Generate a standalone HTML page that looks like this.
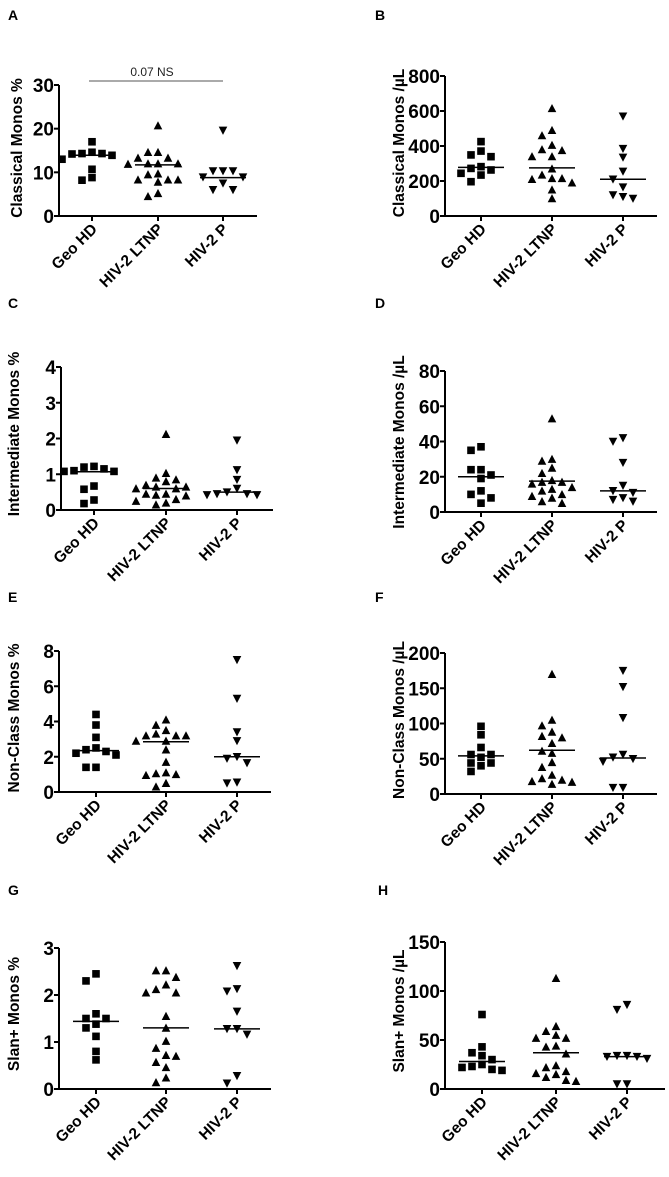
<!DOCTYPE html>
<html><head><meta charset="utf-8"><style>
html,body{margin:0;padding:0;background:#fff}
svg{display:block;font-family:"Liberation Sans",Arial,sans-serif}
</style></head><body>
<svg id="fig" width="669" height="1177" viewBox="0 0 669 1177" xmlns="http://www.w3.org/2000/svg"></svg>
<script>
const categories=["Geo HD","HIV-2 LTNP","HIV-2 P"];
// Panel A: Classical Monos %
const aTicks=[0,10,20,30];
const aGeo=[17.0,14.6,14.3,14.3,14.2,13.9,13.0,10.7,8.8,8.2];
const aLtnp=[20.7,14.6,14.6,13.3,13.3,12.0,12.0,12.0,11.9,9.7,9.5,8.3,8.3,8.3,7.8,5.2,4.5];
const aP=[19.6,10.3,10.3,10.3,8.9,8.9,7.5,6.0,6.0];
const aMed=[13.9,11.7,8.8];
// Panel B: Classical Monos /uL
const bTicks=[0,200,400,600,800];
const bGeo=[425,371,349,339,282,272,263,244,234,196];
const bLtnp=[615,490,460,405,380,375,340,340,270,235,215,215,210,190,150,100];
const bP=[570,385,335,255,210,165,120,110,100];
const bMed=[278,275,210];
// Panel C: Intermediate Monos %
const cTicks=[0,1,2,3,4];
const cGeo=[1.22,1.2,1.15,1.1,1.08,1.08,0.67,0.58,0.28,0.18];
const cLtnp=[2.12,1.03,0.9,0.85,0.8,0.7,0.65,0.65,0.6,0.6,0.45,0.45,0.42,0.4,0.3,0.25,0.2,0.15];
const cP=[1.95,1.12,0.85,0.6,0.5,0.45,0.42,0.42,0.45];
const cMed=[1.07,0.6,0.5];
// Panel D: Intermediate Monos /uL
const dTicks=[0,20,40,60,80];
const dGeo=[37,35,24,24,21,19,12,10,8,5];
const dLtnp=[53,30,29,25,22,18,17,17,16,14,13,12,10,9,8,6,5];
const dP=[42,40,28,15,12,11,8,7,6];
const dMed=[20,17.5,12];
// Panel E: Non-Class Monos %
const eTicks=[0,2,4,6,8];
const eGeo=[4.4,3.8,3.1,2.5,2.4,2.3,2.2,2.1,1.4,1.4];
const eLtnp=[4.1,3.8,3.5,3.3,3.2,3.2,3.2,2.9,2.9,2.4,1.7,1.1,1.05,1.0,0.95,0.5,0.3];
const eP=[7.5,5.3,3.4,2.9,2.0,1.9,1.65,0.55,0.5];
const eMed=[2.35,2.85,2.0];
// Panel F: Non-Class Monos /uL
const fTicks=[0,50,100,150,200];
const fGeo=[96,84,66,56,56,52,44,44,40,32];
const fLtnp=[170,105,97,88,82,80,72,61,58,45,38,27,22,20,18,17,14];
const fP=[175,152,108,56,52,50,46,9,9];
const fMed=[54,62,51];
// Panel G: Slan+ Monos %
const gTicks=[0,1,2,3];
const gGeo=[2.45,2.3,1.6,1.5,1.5,1.38,1.3,1.12,0.8,0.62];
const gLtnp=[2.52,2.52,2.38,2.22,2.12,2.05,2.05,1.55,1.3,1.02,0.87,0.72,0.7,0.57,0.46,0.24,0.14];
const gP=[2.62,2.13,2.08,1.65,1.28,1.28,1.16,0.28,0.12];
const gMed=[1.44,1.3,1.28];
// Panel H: Slan+ Monos /uL
const hTicks=[0,50,100,150];
const hGeo=[76,43,37,34,30,25,23,22,20,19];
const hLtnp=[113,64,59,55,52,52,44,43,36,24,22,18,16,15,12,9,8];
const hP=[86,81,34,34,33,33,31,5,5];
const hMed=[28,37,33];

const NS="http://www.w3.org/2000/svg";
const svg=document.getElementById('fig');
function mk(tag,attrs,parent){const e=document.createElementNS(NS,tag);for(const k in attrs)e.setAttribute(k,attrs[k]);(parent||svg).appendChild(e);return e;}

const panels=[
 {id:'a',letter:'A',lx:8,ly:20,title:'Classical Monos %',tx:18,ty:148,x0:59,x1:257,yt:85,yb:216,cx:[92,158,223],ticks:aTicks,data:[aGeo,aLtnp,aP],med:aMed},
 {id:'b',letter:'B',lx:375,ly:20,title:'Classical Monos /µL',tx:400,ty:143,x0:445,x1:657,yt:76,yb:216,cx:[481,552,623],ticks:bTicks,data:[bGeo,bLtnp,bP],med:bMed},
 {id:'c',letter:'C',lx:8,ly:308,title:'Intermediate Monos %',tx:15,ty:434,x0:61,x1:273,yt:367,yb:510,cx:[94,166,237],ticks:cTicks,data:[cGeo,cLtnp,cP],med:cMed},
 {id:'d',letter:'D',lx:375,ly:308,title:'Intermediate Monos /µL',tx:400,ty:442,x0:445,x1:657,yt:371,yb:512,cx:[481,552,623],ticks:dTicks,data:[dGeo,dLtnp,dP],med:dMed},
 {id:'e',letter:'E',lx:8,ly:602,title:'Non-Class Monos %',tx:15,ty:718,x0:59,x1:271,yt:651,yb:792,cx:[96,166,237],ticks:eTicks,data:[eGeo,eLtnp,eP],med:eMed},
 {id:'f',letter:'F',lx:375,ly:602,title:'Non-Class Monos /µL',tx:400,ty:720,x0:445,x1:657,yt:653,yb:794,cx:[481,552,623],ticks:fTicks,data:[fGeo,fLtnp,fP],med:fMed},
 {id:'g',letter:'G',lx:8,ly:895,title:'Slan+ Monos %',tx:15,ty:1014,x0:59,x1:271,yt:948,yb:1089,cx:[96,166,237],ticks:gTicks,data:[gGeo,gLtnp,gP],med:gMed},
 {id:'h',letter:'H',lx:378,ly:895,title:'Slan+ Monos /µL',tx:400,ty:1011,x0:445,x1:665,yt:942,yb:1089,cx:[482,556,627],ticks:hTicks,data:[hGeo,hLtnp,hP],med:hMed}
];

function marker(g,k,x,y){
  const s=3.8;let e;
  if(k===0){e=mk('rect',{x:x-s,y:y-s,width:2*s,height:2*s,fill:'#000'},g);}
  else if(k===1){e=mk('polygon',{points:`${x},${y-s-0.6} ${x+s+0.5},${y+s} ${x-s-0.5},${y+s}`,fill:'#000'},g);}
  else{e=mk('polygon',{points:`${x},${y+s+0.6} ${x+s+0.5},${y-s} ${x-s-0.5},${y-s}`,fill:'#000'},g);}
  return e;
}

panels.forEach(p=>{
  const g=mk('g',{});
  
  
  const ymax=p.ticks[p.ticks.length-1];
  const Y=v=>p.yb-(v/ymax)*(p.yb-p.yt);
  const lt=mk('text',{x:p.lx,y:p.ly,'font-size':14,'font-weight':'bold',fill:'#000'},g);
  lt.textContent=p.letter;
  
  
  const tt=mk('text',{x:p.tx,y:p.ty,'font-size':15.5,'font-weight':'bold','text-anchor':'middle','dominant-baseline':'middle',transform:`rotate(-90 ${p.tx} ${p.ty})`,fill:'#000'},g);
  tt.textContent=p.title;
  
  
  const ya=mk('line',{x1:p.x0,y1:p.yt,x2:p.x0,y2:p.yb+1,stroke:'#000','stroke-width':2},g);
  
  
  const xa=mk('line',{x1:p.x0-1,y1:p.yb,x2:p.x1,y2:p.yb,stroke:'#000','stroke-width':2},g);
  
  
  p.ticks.forEach(t=>{
    const y=Y(t);
    mk('line',{x1:p.x0-5,y1:y,x2:p.x0,y2:y,stroke:'#000','stroke-width':2},g);
    const tl=mk('text',{x:p.x0-5,y:y+7,'font-size':19,'font-weight':'bold','text-anchor':'end',fill:'#000'},g);
    tl.textContent=t;
    
    
  });
  categories.forEach((c,i)=>{
    const x=p.cx[i];
    mk('line',{x1:x,y1:p.yb,x2:x,y2:p.yb+5,stroke:'#000','stroke-width':2},g);
    const ax=x+6,ay=p.yb+14;
    const cl=mk('text',{x:ax,y:ay,'font-size':15.5,'font-weight':'bold','text-anchor':'end',transform:`rotate(-45 ${ax} ${ay})`,fill:'#000'},g);
    cl.textContent=c;
    
    
    const placed=[];
    const vals=p.data[i].slice().sort((a,b)=>b-a);
    vals.forEach(v=>{
      const y=Y(v);
      const offs=[0,-10,10,-20,20,-30,30,-40,40];
      let ox=0;
      for(const o of offs){
        if(!placed.some(q=>Math.abs(q[0]-o)<9&&Math.abs(q[1]-y)<8)){ox=o;break;}
      }
      placed.push([ox,y]);
      const m=marker(g,i,x+ox,y);
      
      
    });
    const my=Y(p.med[i]);
    const ml=mk('line',{x1:x-23,y1:my,x2:x+23,y2:my,stroke:'#000','stroke-width':1.5},g);
    
    
  });
});
const sl=mk('line',{x1:89,y1:81,x2:223,y2:81,stroke:'#777','stroke-width':1.2});


const st=mk('text',{x:152,y:76,'font-size':12,'text-anchor':'middle',fill:'#222'});
st.textContent='0.07 NS';


</script>
</body></html>
